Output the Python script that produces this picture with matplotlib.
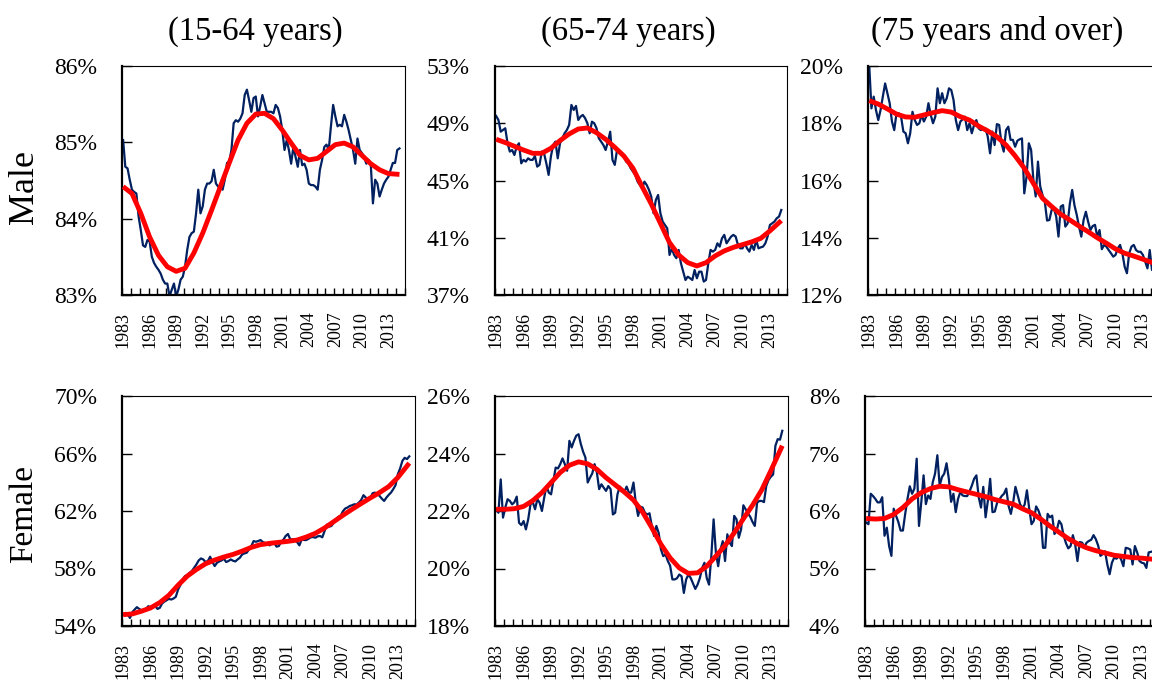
import numpy as np
import matplotlib
matplotlib.use("Agg")
import matplotlib.pyplot as plt

plt.rcParams['font.family'] = ['Liberation Serif', 'DejaVu Serif']

# quarterly observations 1983Q1 .. 2014Q2 (category axis runs to 2014Q4)
years = list(range(1983, 2015))
quarters = [y + q / 4 for y in years for q in range(4)][:126]
trend_x = list(range(1983, 2014)) + [2014.25]

age_titles = ["(15-64 years)", "(65-74 years)", "(75 years and over)"]
row_names = ["Male", "Female"]

# ---- Male ----
male_1564 = [
    85.03, 84.68, 84.66, 84.51, 84.38, 84.35, 84.33, 84.03, 83.85, 83.65, 83.63, 83.72,
    83.70, 83.50, 83.42, 83.37, 83.33, 83.28, 83.20, 83.15, 83.15, 82.98, 83.07, 83.15,
    82.98, 83.07, 83.20, 83.24, 83.37, 83.59, 83.76, 83.81, 83.83, 84.07, 84.38, 84.07,
    84.16, 84.38, 84.46, 84.46, 84.49, 84.64, 84.46, 84.42, 84.40, 84.38, 84.51, 84.73,
    84.75, 84.90, 85.25, 85.29, 85.27, 85.31, 85.38, 85.62, 85.69, 85.55, 85.40, 85.58,
    85.60, 85.34, 85.47, 85.62, 85.51, 85.40, 85.40, 85.40, 85.38, 85.49, 85.45, 85.34,
    85.16, 84.90, 85.03, 84.90, 84.72, 84.94, 84.81, 84.68, 84.90, 84.70, 84.72, 84.64,
    84.46, 84.44, 84.44, 84.42, 84.38, 84.64, 84.77, 84.94, 84.97, 84.90, 85.21, 85.49,
    85.34, 85.21, 85.23, 85.21, 85.36, 85.27, 85.16, 85.03, 84.90, 84.72, 85.05, 84.90,
    84.86, 84.81, 84.72, 84.77, 84.72, 84.20, 84.51, 84.46, 84.29, 84.38, 84.46, 84.51,
    84.55, 84.64, 84.73, 84.73, 84.90, 84.92]
male_1564_trend = [
    84.42, 84.33, 84.07, 83.76, 83.52, 83.37, 83.31, 83.35, 83.55, 83.81, 84.11, 84.42,
    84.73, 85.03, 85.25, 85.37, 85.38, 85.31, 85.16, 84.99, 84.83, 84.77, 84.79, 84.88,
    84.97, 84.99, 84.94, 84.83, 84.72, 84.64, 84.59, 84.58]

male_6574 = [
    49.51, 49.23, 48.41, 48.53, 48.65, 47.60, 47.02, 47.13, 46.78, 47.37, 47.60, 46.20,
    46.44, 46.32, 46.55, 46.44, 46.44, 46.71, 45.97, 46.09, 47.02, 46.90, 46.20, 45.39,
    46.67, 47.48, 47.72, 46.55, 47.60, 47.95, 48.30, 48.53, 48.88, 50.28, 49.93, 50.21,
    49.23, 49.46, 49.58, 49.35, 49.00, 48.30, 49.11, 49.00, 48.65, 47.95, 47.72, 47.48,
    47.13, 47.72, 48.41, 46.44, 46.09, 47.13, 47.02, 46.90, 46.67, 46.32, 46.20, 45.85,
    45.62, 45.39, 44.92, 44.69, 44.46, 44.92, 44.69, 44.34, 43.87, 42.71, 43.64, 43.99,
    42.71, 42.13, 41.89, 41.66, 39.80, 40.26, 39.80, 39.57, 40.15, 39.22, 38.63, 38.05,
    38.28, 38.17, 38.05, 38.75, 38.17, 38.63, 38.63, 37.94, 38.05, 39.22, 40.15, 40.03,
    40.15, 40.61, 40.38, 40.96, 41.20, 40.61, 40.85, 41.08, 41.20, 41.08, 40.50, 40.26,
    40.26, 40.61, 40.26, 40.03, 40.50, 40.15, 40.85, 40.26, 40.33, 40.38, 40.61, 41.08,
    41.89, 42.01, 42.13, 42.36, 42.48, 42.94]
male_6574_trend = [
    47.88, 47.65, 47.39, 47.13, 46.90, 46.90, 47.25, 47.79, 48.25, 48.60, 48.67, 48.34,
    47.88, 47.32, 46.71, 45.85, 44.57, 43.36, 42.01, 40.66, 39.80, 39.26, 39.03, 39.26,
    39.73, 40.08, 40.33, 40.52, 40.71, 40.96, 41.48, 42.20]

male_75 = [
    20.09, 18.52, 18.93, 18.46, 18.11, 18.46, 18.93, 19.39, 19.05, 18.70, 18.06, 17.76,
    18.35, 18.35, 18.23, 17.71, 17.65, 17.30, 17.65, 18.40, 18.11, 17.94, 18.00, 18.29,
    18.06, 18.23, 18.70, 18.29, 18.00, 18.23, 19.22, 18.70, 19.05, 18.70, 18.87, 19.22,
    19.16, 18.81, 18.11, 17.76, 18.06, 18.14, 18.23, 17.76, 18.00, 17.65, 17.94, 18.11,
    17.82, 17.76, 17.82, 17.82, 17.53, 16.95, 17.71, 17.24, 17.97, 17.94, 17.30, 17.01,
    17.76, 17.88, 17.42, 17.42, 17.18, 17.39, 17.44, 17.47, 15.55, 16.13, 17.30, 17.07,
    16.02, 15.44, 16.66, 15.79, 15.49, 15.26, 14.60, 14.62, 14.97, 15.03, 14.74, 14.04,
    15.09, 15.14, 14.39, 14.50, 15.20, 15.67, 15.14, 14.80, 14.39, 14.04, 14.62, 14.91,
    14.56, 14.27, 14.41, 14.45, 14.04, 14.27, 13.60, 13.75, 13.69, 13.57, 13.46, 13.34,
    13.40, 13.63, 13.75, 13.46, 12.99, 12.76, 13.46, 13.69, 13.75, 13.57, 13.51, 13.51,
    13.40, 13.17, 12.93, 13.57, 12.87, 13.11]
male_75_trend = [
    18.79, 18.67, 18.50, 18.32, 18.22, 18.21, 18.29, 18.37, 18.44, 18.39, 18.23, 18.11,
    17.90, 17.73, 17.53, 17.24, 16.86, 16.43, 15.90, 15.38, 15.09, 14.82, 14.62, 14.41,
    14.21, 14.00, 13.81, 13.61, 13.46, 13.36, 13.25, 13.11]

# ---- Female ----
female_1564 = [
    54.79, 54.91, 54.79, 54.56, 54.96, 55.14, 55.31, 55.19, 55.10, 55.05, 55.19, 55.38,
    55.28, 55.33, 55.38, 55.19, 55.26, 55.56, 55.70, 55.79, 55.89, 55.84, 55.91, 56.03,
    56.54, 56.84, 57.24, 57.47, 57.52, 57.70, 57.82, 58.05, 58.28, 58.56, 58.70, 58.63,
    58.45, 58.52, 58.82, 58.45, 58.17, 58.40, 58.49, 58.56, 58.68, 58.45, 58.52, 58.63,
    58.54, 58.49, 58.63, 58.75, 58.98, 59.05, 59.10, 59.33, 59.56, 59.91, 59.86, 59.91,
    59.98, 59.84, 59.77, 59.70, 59.61, 59.75, 59.80, 59.52, 59.56, 59.84, 60.00, 60.26,
    60.40, 60.03, 60.03, 60.00, 59.84, 59.61, 60.03, 59.98, 59.98, 60.07, 60.17, 60.19,
    60.14, 60.24, 60.26, 60.17, 60.61, 61.05, 60.91, 60.96, 61.19, 61.42, 61.59, 61.66,
    61.98, 62.17, 62.24, 62.35, 62.40, 62.47, 62.45, 62.59, 62.77, 63.10, 62.93, 62.86,
    62.91, 63.24, 63.28, 63.19, 63.05, 62.86, 62.70, 62.93, 63.12, 63.28, 63.52, 63.80,
    64.56, 64.96, 65.49, 65.70, 65.61, 65.80]
female_1564_trend = [
    54.79, 54.84, 55.03, 55.26, 55.63, 56.14, 56.84, 57.47, 57.93, 58.33, 58.59, 58.80,
    58.98, 59.21, 59.47, 59.66, 59.75, 59.82, 59.89, 59.98, 60.19, 60.45, 60.82, 61.26,
    61.70, 62.12, 62.52, 62.91, 63.28, 63.70, 64.33, 65.33]

female_6574 = [
    22.06, 21.94, 23.10, 21.77, 22.12, 22.41, 22.35, 22.23, 22.31, 22.50, 21.59, 21.51,
    21.65, 21.36, 21.71, 22.23, 22.31, 22.06, 22.41, 22.29, 22.00, 22.47, 22.87, 22.64,
    22.58, 23.05, 23.51, 23.48, 23.63, 23.83, 23.63, 23.40, 24.44, 24.21, 24.44, 24.62,
    24.67, 24.33, 24.06, 23.86, 22.99, 23.16, 23.31, 23.63, 23.34, 22.76, 22.93, 22.81,
    22.70, 22.87, 22.76, 21.88, 21.94, 22.58, 22.85, 22.76, 22.66, 22.85, 22.64, 22.64,
    22.99, 22.29, 21.83, 22.15, 22.12, 21.94, 21.88, 21.92, 21.48, 21.13, 21.48, 21.24,
    20.66, 20.43, 20.49, 20.26, 20.10, 19.62, 19.62, 19.66, 19.79, 19.73, 19.15, 19.62,
    19.79, 19.67, 19.48, 19.29, 19.44, 19.67, 20.02, 20.20, 19.67, 19.44, 20.43, 21.71,
    20.55, 20.08, 20.66, 20.95, 20.26, 21.19, 20.90, 20.78, 21.83, 21.71, 21.07, 21.36,
    22.20, 22.06, 21.92, 21.80, 21.62, 21.48, 22.29, 22.35, 22.35, 22.31, 22.87, 23.08,
    23.19, 23.27, 24.27, 24.50, 24.48, 24.79]
female_6574_trend = [
    22.06, 22.06, 22.08, 22.16, 22.36, 22.64, 22.99, 23.34, 23.59, 23.71, 23.64, 23.45,
    23.16, 22.91, 22.66, 22.38, 21.96, 21.42, 20.84, 20.37, 20.02, 19.83, 19.85, 20.08,
    20.43, 20.80, 21.24, 21.73, 22.20, 22.73, 23.40, 24.27]

female_75 = [
    5.80, 5.77, 6.30, 6.26, 6.21, 6.15, 6.15, 6.24, 5.57, 5.71, 5.39, 5.22,
    6.04, 5.92, 5.81, 5.66, 5.66, 5.95, 6.21, 6.43, 6.30, 6.39, 6.91, 5.74,
    6.15, 6.62, 6.12, 6.27, 6.21, 6.50, 6.65, 6.97, 6.44, 6.59, 6.65, 6.83,
    6.56, 6.16, 6.30, 5.98, 6.21, 6.33, 6.27, 6.26, 6.26, 6.34, 6.44, 6.56,
    6.62, 6.24, 6.06, 6.42, 5.89, 6.18, 6.56, 5.98, 5.99, 6.14, 6.20, 6.26,
    6.30, 6.39, 6.09, 5.95, 6.15, 6.42, 6.27, 6.12, 6.05, 6.11, 6.36, 6.04,
    5.77, 5.83, 6.08, 6.01, 5.89, 5.36, 5.36, 5.95, 5.89, 5.92, 5.60, 5.67,
    5.83, 5.77, 5.57, 5.44, 5.35, 5.39, 5.58, 5.42, 5.13, 5.46, 5.45, 5.38,
    5.45, 5.48, 5.50, 5.58, 5.51, 5.40, 5.22, 5.25, 5.30, 5.07, 4.90, 5.10,
    5.19, 5.17, 5.22, 5.16, 5.04, 5.36, 5.35, 5.33, 5.07, 5.39, 5.28, 5.13,
    5.10, 5.09, 5.01, 5.28, 5.29, 5.30]
female_75_trend = [
    5.87, 5.86, 5.87, 5.94, 6.06, 6.21, 6.32, 6.39, 6.43, 6.42, 6.37, 6.33,
    6.29, 6.25, 6.20, 6.16, 6.12, 6.04, 5.97, 5.86, 5.74, 5.63, 5.52, 5.43,
    5.36, 5.31, 5.27, 5.23, 5.21, 5.19, 5.18, 5.16]

# y axis ticks for each panel
yticks = [
    [83, 84, 85, 86], [37, 41, 45, 49, 53], [12, 14, 16, 18, 20],
    [54, 58, 62, 66, 70], [18, 20, 22, 24, 26], [4, 5, 6, 7, 8],
]
year_labels = list(range(1983, 2014, 3))

series = [(male_1564, male_1564_trend), (male_6574, male_6574_trend), (male_75, male_75_trend),
          (female_1564, female_1564_trend), (female_6574, female_6574_trend), (female_75, female_75_trend)]

# plot areas in pixels: left, right, top, bottom
boxes = [(122, 405, 66, 295), (495, 787, 66, 295), (868, 1160, 66, 295),
         (122, 415, 396, 626), (495, 788, 396, 626), (865, 1159, 396, 626)]

W, H = 1152, 682
fig = plt.figure(figsize=(W / 100, H / 100), dpi=100)

for k in range(6):
    l, r, t, b = boxes[k]
    ax = fig.add_axes([l / W, 1 - b / H, (r - l) / W, (b - t) / H])
    obs, trend = series[k]
    ax.plot(quarters, obs, color='#002060', lw=1.6, zorder=2)
    ax.plot(trend_x, trend, color='#ff0000', lw=3.5, zorder=3,
            solid_capstyle='butt', solid_joinstyle='round')
    ax.set_xlim(1982.875, 2014.875)
    ax.set_ylim(yticks[k][0], yticks[k][-1])
    ax.set_yticks(yticks[k])
    ax.set_yticklabels([str(v) + '%' for v in yticks[k]])
    ax.set_xticks(year_labels)
    ax.set_xticklabels([str(y) for y in year_labels], rotation=90)
    ax.set_xticks([1982.875 + i for i in range(33)], minor=True)
    ax.tick_params(axis='x', which='major', length=0, pad=12, labelsize=13)
    ax.tick_params(axis='x', which='minor', direction='in', length=5, width=1)
    ax.tick_params(axis='y', direction='in', length=7, width=1, pad=18, labelsize=17)
    for side in ['left', 'bottom']:
        ax.spines[side].set_linewidth(1.6)
    for side in ['top', 'right']:
        ax.spines[side].set_linewidth(0.8)

# column titles and row labels
title_x = [255, 628, 997]
for i in range(3):
    fig.text(title_x[i] / W, 1 - 40 / H, age_titles[i], fontsize=23.5,
             ha='center', va='baseline')
fig.text(24 / W, 1 - 187 / H, row_names[0], fontsize=26, rotation=90, ha='center', va='center')
fig.text(24 / W, 1 - 514 / H, row_names[1], fontsize=24, rotation=90, ha='center', va='center')

fig.savefig('out.png', dpi=100)
